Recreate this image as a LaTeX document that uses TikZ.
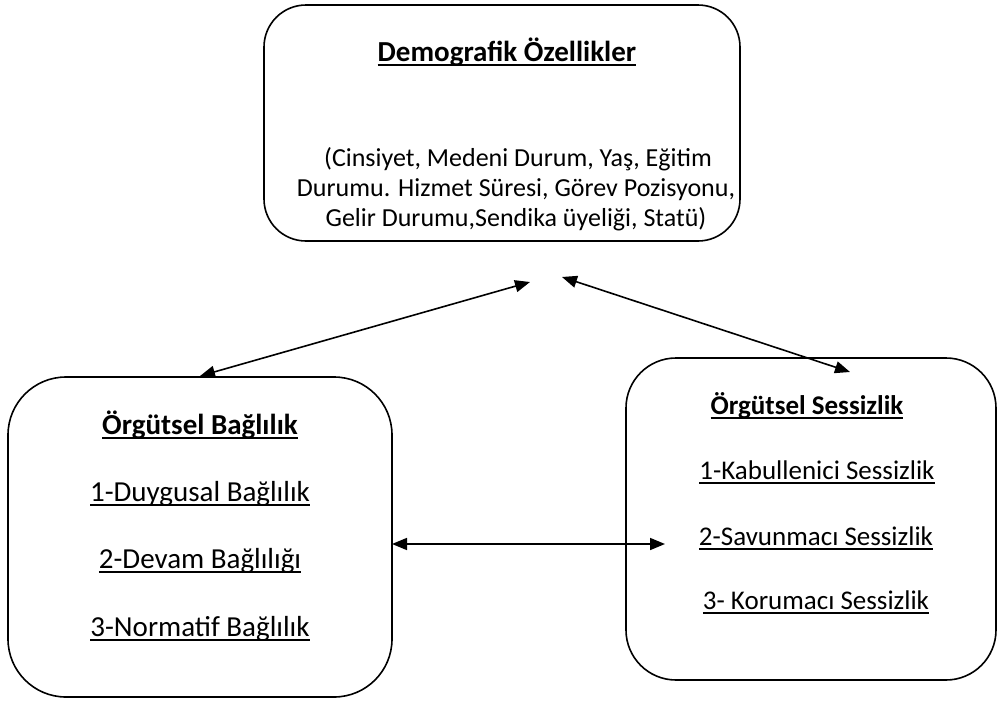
\documentclass[tikz,border=0pt]{standalone}
\usepackage{fontspec}
\setmainfont{Carlito}
\usetikzlibrary{arrows.meta}
\newcommand\myul[1]{\setbox0\hbox{#1}\rlap{\rule[-4.5pt]{\wd0}{1.8pt}}\box0}
\tikzset{
  box/.style={draw, line width=1.6pt, rounded corners=#1},
  txt/.style={font=\fontsize{26}{32}\selectfont, inner sep=0pt, anchor=base},
  ltxt/.style={font=\fontsize{29}{34}\selectfont, inner sep=0pt, anchor=base},
  rtxt/.style={font=\fontsize{27}{32}\selectfont, inner sep=0pt, anchor=base},
  ttl/.style={font=\fontsize{29}{34}\selectfont\bfseries, inner sep=0pt, anchor=base},
  rttl/.style={font=\fontsize{27}{32}\selectfont\bfseries, inner sep=0pt, anchor=base},
  link/.style={line width=1.6pt, {Triangle[length=15pt,width=12pt]}-{Triangle[length=15pt,width=12pt]}}
}
\begin{document}
\begin{tikzpicture}[x=1pt,y=-1pt]
\useasboundingbox (0,0) rectangle (997,702);
% boxes
\draw[box=42pt] (264,5) rectangle (740,241);
\node[inner sep=0pt, minimum width=476pt, minimum height=236pt] (demo) at (502,123) {};
\draw[box=58pt] (8,377) rectangle (392,697);
\node[inner sep=0pt, minimum width=384pt, minimum height=320pt] (bag) at (200,537) {};
\draw[box=50pt] (626,358) rectangle (996,680);
\node[inner sep=0pt, minimum width=370pt, minimum height=322pt] (ses) at (811,519) {};
% texts top
\node[ttl] (t1) at (507,61) {\myul{Demografik Özellikler}};
\node[txt] (t2) at (518,166) {(Cinsiyet, Medeni Durum, Yaş, Eğitim};
\node[txt] (t3) at (516,196) {Durumu. Hizmet Süresi, Görev Pozisyonu,};
\node[txt] (t4) at (516,226) {Gelir Durumu,Sendika üyeliği, Statü)};
% left
\node[ttl] (l1) at (200,434) {\myul{Örgütsel Bağlılık}};
\node[ltxt] (l2) at (200,501) {\myul{1-Duygusal Bağlılık}};
\node[ltxt] (l3) at (200,568) {\myul{2-Devam Bağlılığı}};
\node[ltxt] (l4) at (200,636) {\myul{3-Normatif Bağlılık}};
% right
\node[rttl] (r1) at (807,414) {\myul{Örgütsel Sessizlik}};
\node[rtxt] (r2) at (817,479) {\myul{1-Kabullenici Sessizlik}};
\node[rtxt] (r3) at (816,545) {\myul{2-Savunmacı Sessizlik}};
\node[rtxt] (r4) at (816,609) {\myul{3- Korumacı Sessizlik}};
% connectors
\coordinate (a1) at (530,282);
\coordinate (a2) at (562,277);
\coordinate (b1) at (200,376);
\coordinate (b2) at (850,372);
\coordinate (c1) at (392,544);
\coordinate (c2) at (665,544);
\draw[link] (b1) -- (a1);
\draw[link] (a2) -- (b2);
\draw[link] (c1) -- (c2);
\end{tikzpicture}
\end{document}
